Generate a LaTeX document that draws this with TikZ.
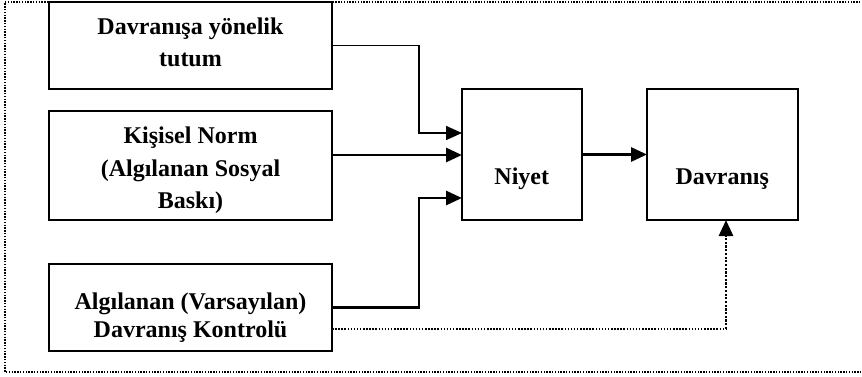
\documentclass[tikz,border=0pt]{standalone}
\usepackage{fontspec}
\setmainfont{Liberation Serif}
\usetikzlibrary{arrows.meta}
\begin{document}
\begin{tikzpicture}[x=1pt,y=-1pt,
  box/.style={draw=black,line width=2pt,fill=white,inner sep=0pt,outer sep=0pt},
  txt/.style={font=\fontsize{24}{32}\selectfont\bfseries,anchor=base,inner sep=0pt},
  tip/.style={-{Triangle[length=16pt,width=14pt]}},
  thinarr/.style={line width=1.6pt,tip},
  thickarr/.style={line width=2.8pt,tip},
  frame/.style={line width=1.3pt,dash pattern=on 1.4pt off 1.4pt},
  dotline/.style={line width=1.5pt,dash pattern=on 1.5pt off 1.6pt},
  dotarr/.style={line width=2.8pt,dash pattern=on 2.2pt off 1.5pt,tip}]
\useasboundingbox (0,0) rectangle (862,377);
% frame
\draw[frame] (866,2) -- (5,2) -- (5,372) -- (866,372);
% boxes
\node[box,minimum width=283pt,minimum height=87pt] (b1) at (190.5,45.5) {};
\node[box,minimum width=283pt,minimum height=109.3pt] (b2) at (190.5,165.3) {};
\node[box,minimum width=283pt,minimum height=87pt] (b3) at (190.5,307.5) {};
\node[box,minimum width=119.5pt,minimum height=131pt] (niyet) at (521.75,154.5) {};
\node[box,minimum width=150.5pt,minimum height=131pt] (davr) at (722.25,154.5) {};
% texts
\node[txt] (t1a) at (190.5,35) {Davranışa yönelik};
\node[txt] (t1b) at (190.5,67) {tutum};
\node[txt] (t2a) at (190.5,144) {Kişisel Norm};
\node[txt] (t2b) at (190.5,176) {(Algılanan Sosyal};
\node[txt] (t2c) at (190.5,208) {Baskı)};
\node[txt] (t3a) at (190.5,309) {Algılanan (Varsayılan)};
\node[txt] (t3b) at (190.5,337) {Davranış Kontrolü};
\node[txt] (tn) at (521.75,184) {Niyet};
\node[txt] (td) at (722.25,184) {Davranış};
% connectors
\coordinate (c1) at (419,133);
\coordinate (c2) at (462,155);
\coordinate (c3) at (419,198);
\coordinate (c4) at (726,329);
\draw[thinarr] (b1.east) -| (c1) -- (c1 -| niyet.west);
\draw[thickarr] (c2 -| b2.east) -- (c2 -| niyet.west);
\draw[thickarr] (b3.east) -| (c3) -- (c3 -| niyet.west);
\draw[thickarr] (niyet.east) -- (davr.west);
\draw[dotline] (c4 -| b3.east) -- (c4);
\draw[dotarr] (c4) -- (c4 |- davr.south);
\end{tikzpicture}
\end{document}
